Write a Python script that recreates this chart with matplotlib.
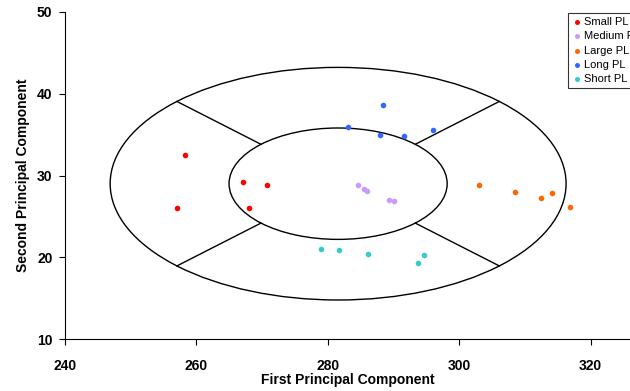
import numpy as np
import matplotlib
matplotlib.use('Agg')
import matplotlib.pyplot as plt
from matplotlib.patches import Ellipse

plt.rcParams['font.family'] = ['Liberation Sans', 'DejaVu Sans']

# scores per group (first PC, second PC)
small_x = [258.2, 257.0, 267.15, 270.75, 268.0]
small_y = [32.55, 26.0, 29.25, 28.8, 26.0]
medium_x = [284.55, 285.5, 285.9, 289.3, 290.1]
medium_y = [28.9, 28.4, 28.15, 26.97, 26.9]
large_x = [303.0, 308.55, 312.5, 314.1, 316.9]
large_y = [28.8, 28.0, 27.2, 27.9, 26.15]
long_x = [288.4, 283.1, 287.9, 291.6, 296.0]
long_y = [38.57, 35.9, 34.98, 34.86, 35.56]
short_x = [279.0, 281.7, 286.1, 293.8, 294.65]
short_y = [21.06, 20.87, 20.38, 19.32, 20.26]

labels = ['Small PL', 'Medium PL', 'Large PL', 'Long PL', 'Short PL']
colors = ['#FF0000', '#CC99FF', '#FF6600', '#3366FF', '#33CCCC']

# guide ellipses
center = (281.57, 29.0)
outer_w, outer_h = 69.4, 28.4
inner_w, inner_h = 33.2, 13.6

fig = plt.figure(figsize=(6.3, 3.91), dpi=100)
ax = fig.add_axes([0.1032, 0.1322, 0.8968, 0.8379])

ax.add_patch(Ellipse(center, outer_w, outer_h, fill=False, ec='black', lw=1.0))
ax.add_patch(Ellipse(center, inner_w, inner_h, fill=False, ec='black', lw=1.0))
for ang in [45, 135, 225, 315]:
    t = np.radians(ang)
    x0 = center[0] + inner_w / 2 * np.cos(t)
    y0 = center[1] + inner_h / 2 * np.sin(t)
    x1 = center[0] + outer_w / 2 * np.cos(t)
    y1 = center[1] + outer_h / 2 * np.sin(t)
    ax.plot([x0, x1], [y0, y1], color='black', lw=1.0)

groups = [(small_x, small_y), (medium_x, medium_y), (large_x, large_y),
          (long_x, long_y), (short_x, short_y)]
for (gx, gy), lab, c in zip(groups, labels, colors):
    ax.scatter(gx, gy, s=16, color=c, label=lab, zorder=3, linewidths=0)

ax.set_xlim(240, 326.0)
ax.set_ylim(10, 50)
ax.set_xticks([240, 260, 280, 300, 320])
ax.set_yticks([10, 20, 30, 40, 50])
for s in ['top', 'right']:
    ax.spines[s].set_visible(False)
ax.tick_params(direction='out', length=4, width=0.8, labelsize=10)
ax.tick_params(axis='x', pad=10)
ax.tick_params(axis='y', pad=5)
for t in ax.get_xticklabels() + ax.get_yticklabels():
    t.set_fontweight('bold')

ax.set_xlabel('First Principal Component', fontsize=10, fontweight='bold', labelpad=0)
ax.set_ylabel('Second Principal Component', fontsize=10, fontweight='bold', labelpad=5)

leg = fig.legend(loc='upper left', bbox_to_anchor=(568 / 630, 1 - 13.3 / 391),
                 fontsize=8, frameon=True, fancybox=False, borderpad=0.3,
                 handletextpad=0.1, handlelength=1.0, labelspacing=0.4,
                 markerscale=0.9, borderaxespad=0)
leg.get_frame().set_edgecolor('black')
leg.get_frame().set_linewidth(0.8)

fig.savefig('out.png', dpi=100)
